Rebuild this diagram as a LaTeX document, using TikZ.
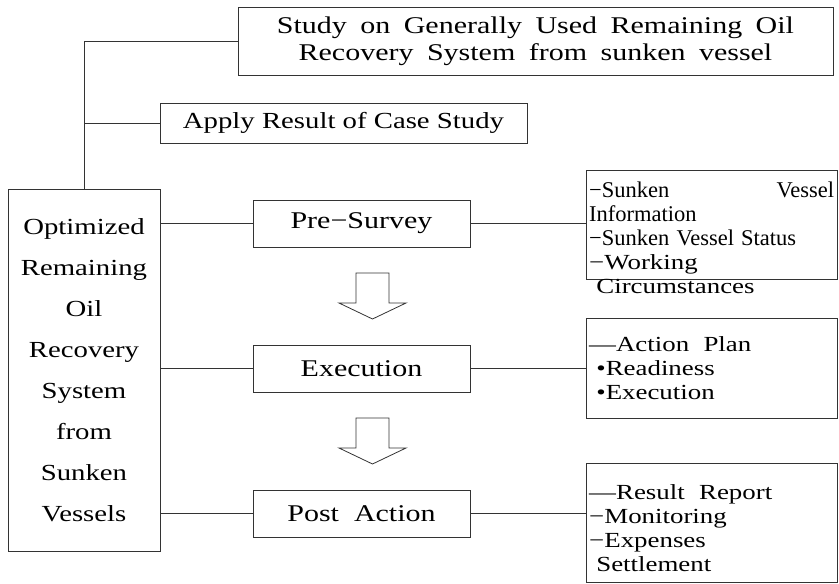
\documentclass[tikz,border=0pt]{standalone}
\usepackage{fontspec}
\setmainfont{Liberation Serif}[FakeStretch=1.25]
\newfontfamily\narrowserif{Liberation Serif}
\usetikzlibrary{positioning}
\definecolor{boxLine}{HTML}{333333}
\newcommand{\widespaces}{\spaceskip=0.56em\relax}
\newcommand{\narrowline}{\narrowserif\fontsize{22.5}{24}\selectfont}
\tikzset{
 plainbox/.style={draw=boxLine, line width=0.8pt, inner sep=0pt, font=\fontsize{23}{27}\selectfont},
 stagebox/.style={plainbox, minimum width=217pt, minimum height=47pt, font=\fontsize{24}{27}\selectfont},
 notebox/.style={draw=boxLine, line width=0.8pt, minimum width=251pt, anchor=north west},
 notetext/.style={anchor=north west, align=left, inner sep=0pt, text width=245pt, font=\fontsize{21.5}{24}\selectfont},
 link/.style={draw=boxLine, line width=0.8pt},
}
\newcommand{\downblock}[2]{% x centre, top y
 \draw[boxLine, line width=0.8pt] (#1-16.5,#2) -- (#1+16.5,#2) -- (#1+16.5,#2+30) -- (#1+33.5,#2+30) -- (#1,#2+46) -- (#1-33.5,#2+30) -- (#1-16.5,#2+30) -- cycle;}

\begin{document}
\begin{tikzpicture}[x=1pt, y=-1pt]
\useasboundingbox (0,0) rectangle (839,584);
% top level
\node[plainbox, minimum width=595pt, minimum height=68pt, align=center, font=\fontsize{24}{27}\selectfont\widespaces] (study) at (535.5,41) {Study on Generally Used Remaining Oil\\Recovery System from sunken vessel};
\node[plainbox, minimum width=367pt, minimum height=40pt] (apply) at (343.5,123) {Apply Result of Case Study};
\node[plainbox, minimum width=152pt, minimum height=362pt, align=center, font=\fontsize{23}{41}\selectfont] (sys) at (84,370) {Optimized\\Remaining\\Oil\\Recovery\\System\\from\\Sunken\\Vessels};
\draw[link] (study.west) -| (sys.north);
\draw[link] (apply.west) -- (apply.west -| sys.north);
% stages
\node[stagebox] (pre) at (361.5,223.5) {Pre−Survey};
\node[stagebox] (exec) at (361.5,368.5) {Execution};
\node[stagebox] (post) at (361.5,513.5) {Post\ \ Action};
\downblock{372.5}{273}
\downblock{372.5}{418}
\draw[link] (sys.east |- pre.west) -- (pre.west);
\draw[link] (sys.east |- exec.west) -- (exec.west);
\draw[link] (sys.east |- post.west) -- (post.west);
% notes
\node[notebox, minimum height=109pt] (info) at (586,170) {};
\node[notebox, minimum height=100pt] (plan) at (586,318) {};
\node[notebox, minimum height=119pt] (report) at (586,463) {};
\node[notetext] (infotext) at ([xshift=3pt, yshift=-12pt]info.north west) {{\narrowline −Sunken\hfill Vessel}\\{\narrowline Information}\\{\narrowline −Sunken Vessel Status}\\−Working\\\ Circumstances};
\node[notetext] (plantext) at ([xshift=3pt, yshift=-18pt]plan.north west) {—Action\ \ Plan\\\ •Readiness\\\ •Execution};
\node[notetext] (reporttext) at ([xshift=3pt, yshift=-21pt]report.north west) {—Result\ \ Report\\−Monitoring\\−Expenses\\\ Settlement};
\draw[link] (pre.east) -- (pre.east -| info.west);
\draw[link] (exec.east) -- (exec.east -| plan.west);
\draw[link] (post.east) -- (post.east -| report.west);
\end{tikzpicture}
\end{document}
